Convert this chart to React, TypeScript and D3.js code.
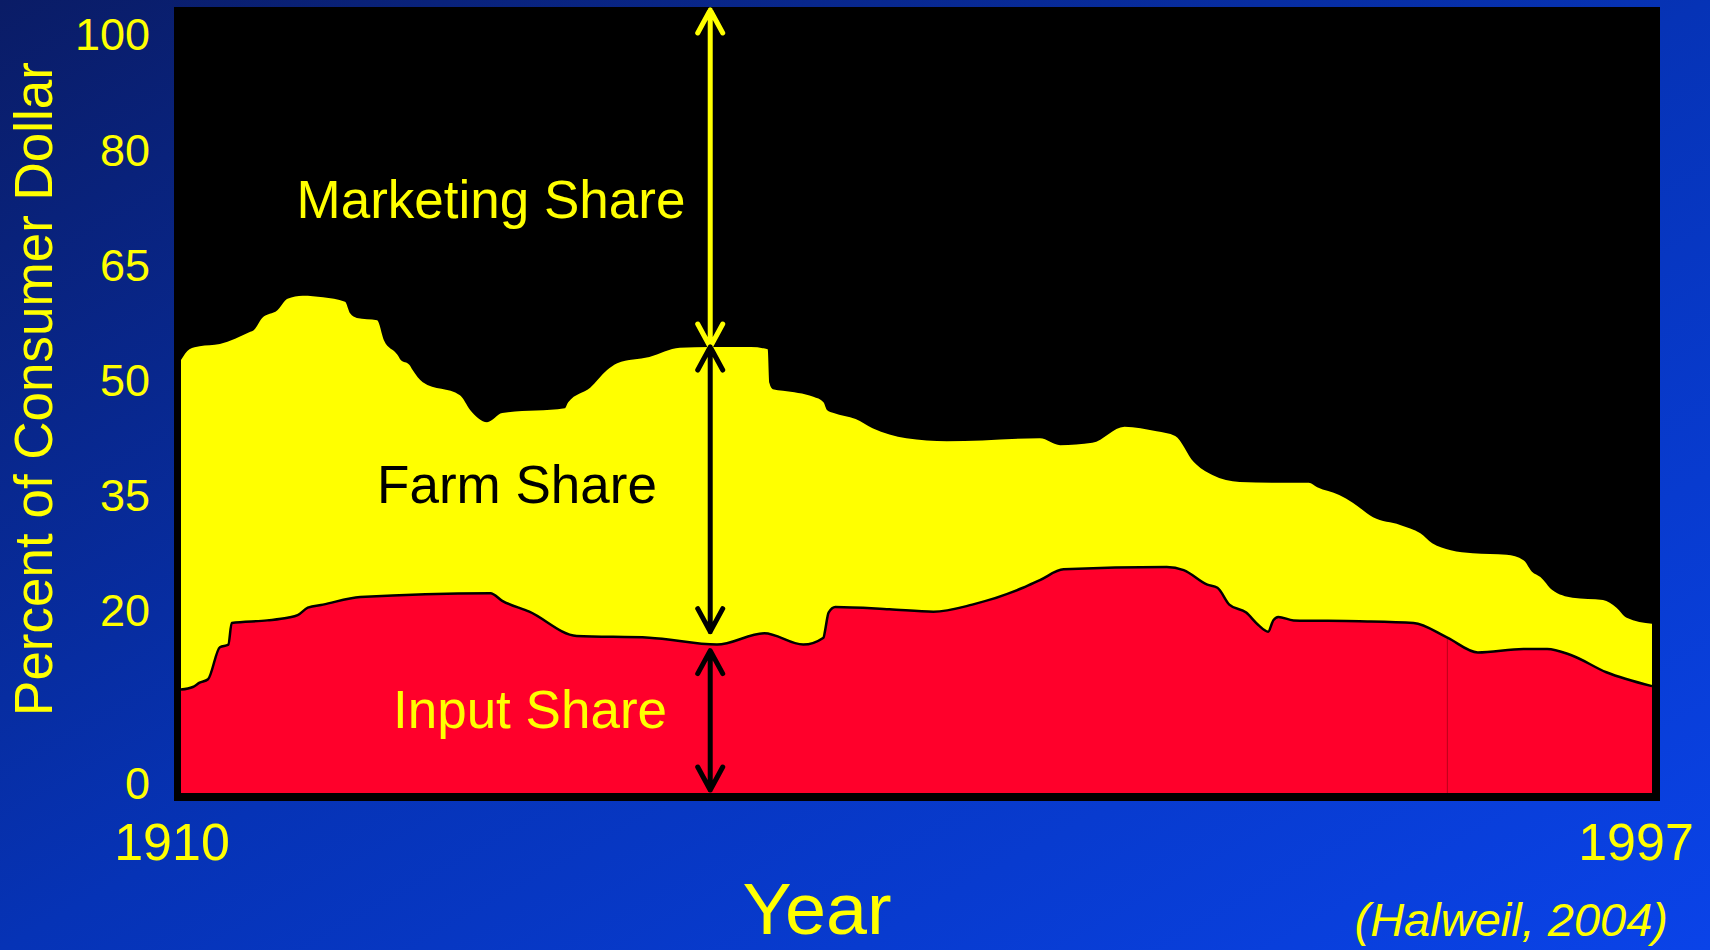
import * as d3 from "d3";
import React from "react";

const W = 1710;
const H = 950;

// axis labels
const xTickYears = [1910, 1997];
const yTicks = [0, 20, 35, 50, 65, 80, 100];

// upper edge of the yellow band (input + farm share)
const farmTopYears = [
  1910.0, 1910.5, 1911.1, 1912.3, 1914.1, 1914.3, 1914.8, 1915.7, 1916.3, 1917.2,
  1918.4, 1919.7, 1920.0, 1920.4, 1921.6, 1922.0, 1922.8, 1923.0, 1923.5, 1923.7,
  1924.3, 1926.5, 1927.1, 1928.1, 1929.0, 1932.7, 1932.9, 1934.2, 1935.2, 1935.8,
  1937.7, 1939.5, 1941.3, 1943.7, 1944.7, 1944.8, 1945.0, 1945.6, 1947.4, 1948.0,
  1948.2, 1948.6, 1949.9, 1950.9, 1952.9, 1955.3, 1960.8, 1962.0, 1963.9, 1965.8,
  1967.7, 1968.8, 1969.9, 1971.0, 1972.6, 1974.6, 1976.7, 1977.2, 1978.5, 1979.3,
  1980.5, 1982.1, 1983.3, 1984.0, 1985.1, 1986.4, 1988.4, 1989.4, 1989.9, 1990.4,
  1991.1, 1992.3, 1994.1, 1994.9, 1995.5, 1997.0,
];
const farmTopValues = [
  52.6, 54.0, 54.4, 54.7, 56.3, 56.5, 58.1, 59.1, 60.6, 61.0,
  60.8, 60.2, 58.7, 58.1, 57.8, 55.2, 53.3, 52.6, 52.0, 51.3,
  49.7, 48.0, 46.1, 44.5, 45.7, 46.3, 47.1, 49.0, 51.3, 52.2,
  53.0, 54.2, 54.3, 54.3, 54.0, 49.6, 48.8, 48.6, 47.8, 47.1,
  46.1, 45.7, 44.9, 43.7, 42.4, 42.0, 42.4, 41.5, 41.8, 43.9,
  43.3, 42.7, 39.3, 37.6, 36.7, 36.6, 36.6, 36.0, 35.0, 34.0,
  32.1, 31.1, 30.0, 28.7, 27.8, 27.4, 27.2, 26.5, 25.0, 24.3,
  22.6, 21.6, 21.3, 20.3, 19.1, 18.4,
];

// upper edge of the red band (input share)
const inputYears = [
  1910.0, 1910.7, 1911.1, 1911.6, 1912.3, 1912.8, 1913.0, 1915.1, 1916.3, 1916.9,
  1917.5, 1918.4, 1920.6, 1928.3, 1929.0, 1930.6, 1933.4, 1937.7, 1941.7, 1944.5,
  1946.8, 1948.0, 1948.1, 1948.3, 1948.7, 1951.9, 1954.5, 1956.8, 1959.8, 1960.8,
  1962.2, 1968.3, 1969.3, 1970.7, 1971.3, 1972.0, 1973.0, 1973.7, 1974.3, 1974.6,
  1974.9, 1975.8, 1979.7, 1982.9, 1984.9, 1986.7, 1989.4, 1990.8, 1992.2, 1994.3,
  1997.0,
];
const inputValues = [
  10.8, 11.1, 11.6, 12.0, 15.7, 16.0, 18.5, 18.8, 19.1, 19.4,
  20.3, 20.7, 21.7, 22.2, 21.2, 19.8, 17.0, 16.8, 16.0, 17.3,
  16.0, 16.8, 17.7, 19.7, 20.4, 20.1, 19.8, 20.7, 22.9, 23.9,
  25.3, 25.6, 25.2, 23.3, 22.9, 20.7, 19.7, 18.3, 17.5, 18.8,
  19.2, 18.8, 18.7, 18.5, 16.8, 15.1, 15.5, 15.5, 14.8, 12.8,
  11.2,
];

// where the red shape has its seam
const seamYear = 1984.9;

// the three double arrows
const arrowYear = 1941.3;
const farmArrowTop = 54.3;
const farmArrowBottom = 17.5;
const inputArrowTop = 15.3;

const panel = { left: 174, top: 7, right: 1660, bottom: 801 };
const plot = { left: 181, right: 1652, bottom: 793 };

const x = d3.scaleLinear().domain([1910, 1997]).range([plot.left, plot.right]);
// the value axis is not linear: labels sit at equal steps except 0
const y = d3.scaleLinear().domain(yTicks).range([783, 610, 495, 380, 265, 150, 34]);

const farmTop = d3.zip(farmTopYears, farmTopValues) as [number, number][];
const inputTop = d3.zip(inputYears, inputValues) as [number, number][];

const area = d3
  .area<[number, number]>()
  .x((d) => x(d[0]))
  .y0(plot.bottom)
  .y1((d) => y(d[1]))
  .curve(d3.curveMonotoneX);

const line = d3
  .line<[number, number]>()
  .x((d) => x(d[0]))
  .y((d) => y(d[1]))
  .curve(d3.curveMonotoneX);

function arrowPath(ax: number, y1: number, y2: number) {
  const hw = 12.5;
  const hl = 23;
  return (
    `M${ax},${y1}L${ax},${y2}` +
    `M${ax - hw},${y1 + hl}L${ax},${y1}L${ax + hw},${y1 + hl}` +
    `M${ax - hw},${y2 - hl}L${ax},${y2}L${ax + hw},${y2 - hl}`
  );
}

const YELLOW = "#ffff00";
const RED = "#ff002b";

export default function App() {
  const ax = x(arrowYear);
  const seamValue = inputValues[inputYears.indexOf(seamYear)];

  return (
    <svg
      width={W}
      height={H}
      style={{ position: "absolute", left: 0, top: 0 }}
      fontFamily="'Liberation Sans', Arial, sans-serif"
    >
      <defs>
        <linearGradient id="bg" x1="0" y1="0" x2="1" y2="1">
          <stop offset="0" stopColor="#0a1c66" />
          <stop offset="0.5" stopColor="#0633b6" />
          <stop offset="1" stopColor="#0a43e8" />
        </linearGradient>
      </defs>
      <rect width={W} height={H} fill="url(#bg)" />

      <rect
        x={panel.left}
        y={panel.top}
        width={panel.right - panel.left}
        height={panel.bottom - panel.top}
        fill="#000"
      />

      <path d={area(farmTop) ?? ""} fill={YELLOW} />
      <path d={area(inputTop) ?? ""} fill={RED} />
      <line
        x1={x(seamYear)}
        x2={x(seamYear)}
        y1={y(seamValue)}
        y2={plot.bottom}
        stroke="#c4001c"
        strokeWidth={1.2}
      />
      <path d={line(inputTop) ?? ""} fill="none" stroke="#000" strokeWidth={2.5} />

      {/* arrows */}
      <path
        d={arrowPath(ax, panel.top + 3, y(farmArrowTop))}
        fill="none"
        stroke={YELLOW}
        strokeWidth={5}
        strokeLinecap="round"
        strokeLinejoin="round"
      />
      <path
        d={arrowPath(ax, y(farmArrowTop), y(farmArrowBottom))}
        fill="none"
        stroke="#000"
        strokeWidth={5}
        strokeLinecap="round"
        strokeLinejoin="round"
      />
      <path
        d={arrowPath(ax, y(inputArrowTop), plot.bottom - 3)}
        fill="none"
        stroke="#000"
        strokeWidth={5}
        strokeLinecap="round"
        strokeLinejoin="round"
      />

      {/* band labels */}
      <text x={491} y={218} textAnchor="middle" fontSize={53} fill={YELLOW}>
        Marketing Share
      </text>
      <text x={517} y={503} textAnchor="middle" fontSize={53} fill="#000">
        Farm Share
      </text>
      <text x={530} y={728} textAnchor="middle" fontSize={53} fill={YELLOW}>
        Input Share
      </text>

      {/* y axis */}
      {yTicks.map((v) => (
        <text
          key={v}
          x={150}
          y={y(v)}
          dy="0.36em"
          textAnchor="end"
          fontSize={45}
          fill={YELLOW}
        >
          {v}
        </text>
      ))}
      <text
        transform="translate(52,389) rotate(-90)"
        textAnchor="middle"
        fontSize={53}
        fill={YELLOW}
      >
        Percent of Consumer Dollar
      </text>

      {/* x axis */}
      {xTickYears.map((yr) => (
        <text
          key={yr}
          x={x(yr) + (yr === 1910 ? -9 : -16)}
          y={860}
          textAnchor="middle"
          fontSize={52}
          fill={YELLOW}
        >
          {yr}
        </text>
      ))}
      <text
        x={817}
        y={934}
        textAnchor="middle"
        fontSize={72}
        textLength={149}
        lengthAdjust="spacingAndGlyphs"
        fill={YELLOW}
      >
        Year
      </text>
      <text
        x={1668}
        y={936}
        textAnchor="end"
        fontSize={47}
        fontStyle="italic"
        fill={YELLOW}
      >
        (Halweil, 2004)
      </text>
    </svg>
  );
}
